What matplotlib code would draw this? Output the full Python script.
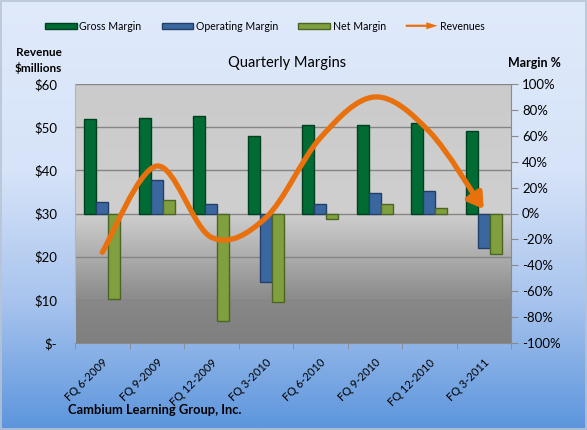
import numpy as np
import matplotlib
matplotlib.use("Agg")
import matplotlib.pyplot as plt
import matplotlib.patches as mpatches
from matplotlib.path import Path
from matplotlib.colors import LinearSegmentedColormap
from matplotlib.legend_handler import HandlerPatch

# ---------------- data ----------------
categories = ['FQ 6-2009', 'FQ 9-2009', 'FQ 12-2009', 'FQ 3-2010',
              'FQ 6-2010', 'FQ 9-2010', 'FQ 12-2010', 'FQ 3-2011']
revenue = [21, 41, 24.5, 29, 47.5, 57, 49, 31]          # $ millions (left axis)
gross_margin = [73, 74, 75.5, 60, 68.5, 68.5, 70, 63.5]  # % (right axis)
operating_margin = [8.5, 26, 7, -53, 7.5, 16, 17, -26.5]
net_margin = [-66, 10.5, -83, -68.5, -4, 7, 4, -31]
left_ticks = [0, 10, 20, 30, 40, 50, 60]
left_labels = ['$-', '$10', '$20', '$30', '$40', '$50', '$60']
right_ticks = [-100, -80, -60, -40, -20, 0, 20, 40, 60, 80, 100]
right_labels = [f'{t}%' for t in right_ticks]

FONT = ['Lato', 'DejaVu Sans']
plt.rcParams['font.family'] = FONT

C_GROSS, E_GROSS = '#006b33', '#004020'
C_OPER, E_OPER = '#3b67a0', '#233f66'
C_NET, E_NET = '#80a040', '#4c6424'
C_REV = '#e8700d'

W, H = 587, 430
fig = plt.figure(figsize=(W / 100, H / 100), dpi=100)

# figure background gradient
bg = fig.add_axes([0, 0, 1, 1], zorder=-10)
bg_cmap = LinearSegmentedColormap.from_list(
    'bg', [(0.0, '#e0eafb'), (0.40, '#d6e3f8'), (0.70, '#a8c4ee'), (1.0, '#5c95dc')])
bg.imshow(np.linspace(0, 1, 256).reshape(-1, 1), aspect='auto', cmap=bg_cmap,
          extent=[0, 1, 0, 1], origin='upper')
bg.set_xlim(0, 1); bg.set_ylim(0, 1)
bg.axis('off')
fig.patches.append(mpatches.Rectangle((0.002, 0.002), 0.996, 0.995, transform=fig.transFigure,
                                      fill=False, edgecolor='#b8c4d4', lw=1.2))

left_px, right_px, top_px, bot_px = 75, 511, 84, 343
ax = fig.add_axes([left_px / W, 1 - bot_px / H, (right_px - left_px) / W, (bot_px - top_px) / H])
ax2 = ax.twinx()

n = len(categories)
x = np.arange(n)

# plot area gradient
pa_cmap = LinearSegmentedColormap.from_list(
    'pa', [(0.0, '#cbcbcb'), (0.5, '#cfcfcf'), (0.85, '#878787'), (1.0, '#7f7f7f')])
ax.imshow(np.linspace(0, 1, 256).reshape(-1, 1), aspect='auto', cmap=pa_cmap,
          extent=[-0.5, n - 0.5, 0, 60], origin='upper', zorder=0)
ax.set_xlim(-0.5, n - 0.5)
ax.set_ylim(0, 60)
ax.set_axisbelow(True)
ax.yaxis.grid(True, color='#858585', lw=1.0)
ax.set_yticks(left_ticks)
ax.set_yticklabels(left_labels, fontsize=9.5)
ax.tick_params(axis='y', length=0, pad=13)
ax.set_xticks(x)
ax.set_xticklabels(categories, rotation=45, ha='right', rotation_mode='anchor', fontsize=8)
ax.set_xticks(np.arange(-0.5, n, 1), minor=True)
ax.tick_params(axis='x', which='major', length=0, pad=10)
ax.tick_params(axis='x', which='minor', length=4, color='#8a8a8a', direction='out')
for s in ['top', 'right']:
    ax.spines[s].set_visible(False)
ax.spines['left'].set_color('#b5b5b5')
ax.spines['bottom'].set_color('#8a8a8a')

# bars on right axis
bw = 0.22
ax2.bar(x - bw, gross_margin, bw, color=C_GROSS, edgecolor=E_GROSS, lw=1.0, zorder=2)
ax2.bar(x, operating_margin, bw, color=C_OPER, edgecolor=E_OPER, lw=1.0, zorder=2)
ax2.bar(x + bw, net_margin, bw, color=C_NET, edgecolor=E_NET, lw=1.0, zorder=2)
ax2.set_ylim(-100, 100)
ax2.set_yticks(right_ticks)
ax2.set_yticklabels(right_labels, fontsize=9.5)
ax2.tick_params(axis='y', length=5, color='#8a8a8a', pad=3)
ax2.patch.set_visible(False)
for s in ['top', 'left', 'bottom']:
    ax2.spines[s].set_visible(False)
ax2.spines['right'].set_color('#8a8a8a')

# smooth revenue curve (Excel-style smoothed line) with arrow head
P = np.column_stack([x, revenue]).astype(float)
verts = [P[0]]
codes = [Path.MOVETO]
for i in range(n - 1):
    pm = P[max(i - 1, 0)]
    p0 = P[i]
    p1 = P[i + 1]
    pp = P[min(i + 2, n - 1)]
    c1 = p0 + (p1 - pm) / 6.0
    c2 = p1 - (pp - p0) / 6.0
    verts += [c1, c2, p1]
    codes += [Path.CURVE4] * 3
rev_path = Path(np.array(verts), codes)
arrow = mpatches.FancyArrowPatch(path=rev_path, arrowstyle='-|>,head_length=9,head_width=5.5',
                                 mutation_scale=1, color=C_REV, lw=3.8, capstyle='round',
                                 joinstyle='round', transform=ax.transData, zorder=5)
ax2.add_patch(arrow)
ax2.set_xlim(-0.5, n - 0.5)
ax2.set_ylim(-100, 100)

# texts
fig.text(287 / W, 1 - 63 / H, 'Quarterly Margins', ha='center', va='center', fontsize=10.5)
fig.text(62 / W, 1 - 53 / H, 'Revenue', ha='right', va='center', fontsize=8.5, fontweight='bold')
fig.text(62 / W, 1 - 68 / H, '$millions', ha='right', va='center', fontsize=8.5, fontweight='bold')
fig.text(508 / W, 1 - 63 / H, 'Margin %', ha='left', va='center', fontsize=9, fontweight='bold')
fig.text(68 / W, 1 - 410 / H, 'Cambium Learning Group, Inc.', ha='left', va='center',
         fontsize=9.3, fontweight='bold')


# legend
class HandlerArrow(HandlerPatch):
    def create_artists(self, legend, orig_handle, xdescent, ydescent, width, height, fontsize, trans):
        p = mpatches.FancyArrow(-xdescent, -ydescent + 0.5 * height, width, 0,
                                length_includes_head=True, width=0.35 * height,
                                head_width=1.1 * height, head_length=0.35 * width,
                                color=C_REV, lw=0)
        p.set_transform(trans)
        return [p]


h_gross = mpatches.Patch(facecolor=C_GROSS, edgecolor=E_GROSS)
h_oper = mpatches.Patch(facecolor=C_OPER, edgecolor=E_OPER)
h_net = mpatches.Patch(facecolor=C_NET, edgecolor=E_NET)
h_rev = mpatches.FancyArrow(0, 0, 1, 0)
fig.legend([h_gross, h_oper, h_net, h_rev],
           ['Gross Margin', 'Operating Margin', 'Net Margin', 'Revenues'],
           handler_map={mpatches.FancyArrow: HandlerArrow()},
           loc='center', bbox_to_anchor=(265 / W, 1 - 26 / H), ncol=4, frameon=False,
           fontsize=7.6, handlelength=3.0, handleheight=0.55, handletextpad=0.25,
           columnspacing=1.9)

fig.savefig('out.png', dpi=100)
